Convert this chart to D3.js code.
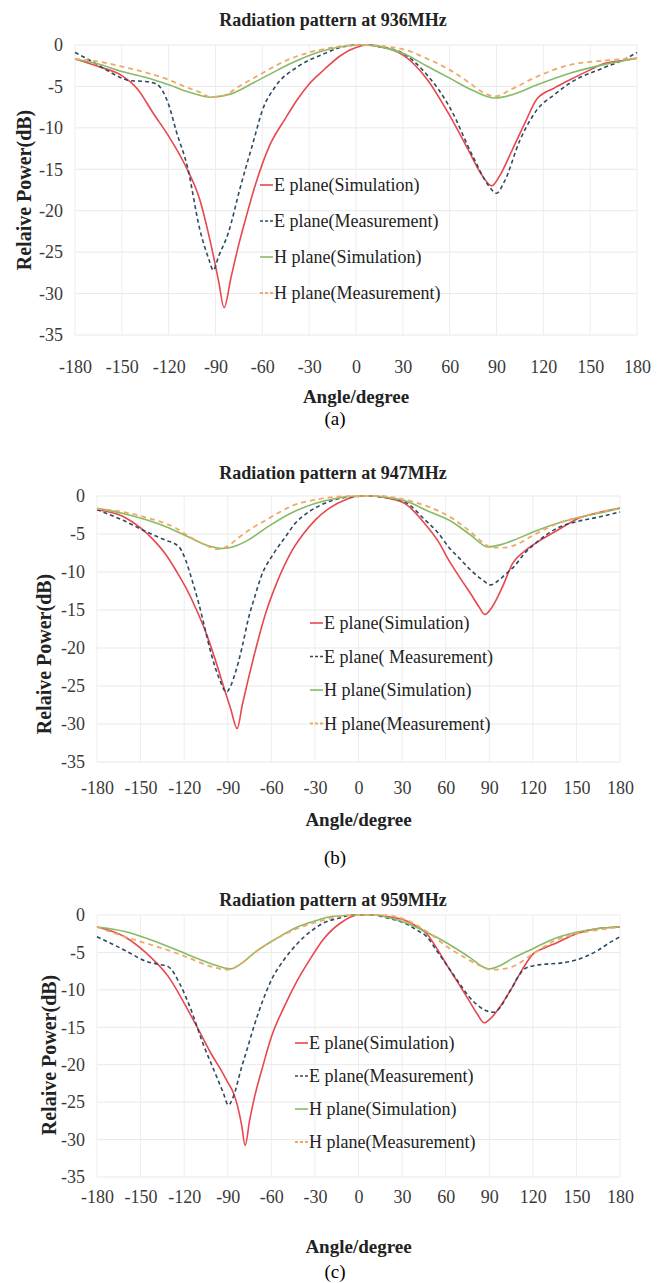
<!DOCTYPE html>
<html>
<head>
<meta charset="utf-8">
<script src="https://cdn.jsdelivr.net/npm/d3@7"></script>
<style>
body { margin: 0; background: #fff; }
svg { display: block; }
text { font-family: "Liberation Serif", "Times New Roman", serif; }
</style>
</head>
<body>
<svg id="chart" width="670" height="1283"></svg>
<script>
// ---- data ----
var xTicks = [-180, -150, -120, -90, -60, -30, 0, 30, 60, 90, 120, 150, 180];
var yTicks = [0, -5, -10, -15, -20, -25, -30, -35];
var titles = ["Radiation pattern at 936MHz", "Radiation pattern at 947MHz", "Radiation pattern at 959MHz"];
var captions = ["(a)", "(b)", "(c)"];
var legendA = ["E plane(Simulation)", "E plane(Measurement)", "H plane(Simulation)", "H plane(Measurement)"];
var legendB = ["E plane(Simulation)", "E plane( Measurement)", "H plane(Simulation)", "H plane(Measurement)"];

// panel (a) 936MHz  [angle, dB]
var a_eSim = [[-180,-1.7],[-165,-2.6],[-150,-3.7],[-140,-5.3],[-130,-8.2],[-120,-11],[-110,-14.3],[-100,-18.7],[-93,-24],[-88,-28.5],[-84.5,-31.7],[-80,-28],[-75,-24],[-70,-20.5],[-65,-17.2],[-55,-12],[-45,-8.8],[-38,-6.7],[-30,-4.7],[-20,-2.9],[-10,-1.3],[0,-0.3],[8,0],[15,-0.2],[30,-1.2],[45,-4],[60,-8.5],[72,-12.7],[80,-15.5],[87,-17],[92,-15.8],[100,-12.7],[108,-9.5],[116,-6.5],[127,-5.2],[137,-4.2],[150,-3],[158,-2.3],[170,-1.9],[180,-1.6]];
var a_eMeas = [[-180,-0.9],[-170,-1.9],[-160,-3],[-150,-4],[-145,-4.3],[-135,-4.4],[-128,-4.7],[-124,-5.5],[-120,-7.2],[-115,-10.5],[-108,-14.7],[-100,-22.3],[-94,-26],[-91.5,-27.2],[-88,-25.5],[-82,-22.8],[-74,-17.1],[-65.5,-11.5],[-60,-7.9],[-52,-5.1],[-38,-2.7],[-21,-1.1],[-10,-0.3],[0,0],[8,0],[15,-0.2],[30,-1],[45,-3.5],[60,-7.5],[75,-13.5],[85,-17],[90,-17.9],[95,-16.5],[105,-11.5],[116,-7.8],[127,-6],[137,-4.6],[158,-2.8],[170,-1.9],[180,-0.9]];
var a_hSim = [[-180,-1.7],[-165,-2.3],[-150,-3.2],[-135,-3.9],[-120,-4.8],[-105,-5.8],[-93,-6.3],[-80,-5.9],[-65,-4.5],[-50,-3],[-38,-1.9],[-21,-0.7],[-5,-0.1],[5,0],[15,-0.2],[30,-1],[45,-2.5],[60,-4],[75,-5.5],[89,-6.4],[100,-6],[116,-4.8],[137,-3.4],[158,-2.4],[180,-1.6]];
var a_hMeas = [[-180,-1.7],[-165,-2],[-150,-2.6],[-135,-3.3],[-120,-4.2],[-110,-5],[-100,-5.7],[-93,-6.3],[-85,-6.1],[-75,-5],[-60,-3.4],[-45,-1.9],[-30,-0.9],[-15,-0.3],[0,0],[10,0],[20,-0.2],[30,-0.5],[45,-1.6],[60,-3],[73,-4.6],[82,-5.8],[89,-6.2],[100,-5.3],[116,-3.8],[137,-2.4],[158,-1.9],[180,-1.6]];

// panel (b) 947MHz
var b_eSim = [[-180,-1.8],[-162,-2.7],[-150,-4.2],[-140,-6],[-133,-7.6],[-125,-10],[-119,-12],[-111,-15.2],[-104,-18.5],[-97,-22.5],[-93,-25],[-88,-28],[-83.5,-30.6],[-80,-27.5],[-76,-24.2],[-70,-19.6],[-64,-15.5],[-56,-11.3],[-47,-7.6],[-38,-5],[-30,-3.2],[-20,-1.6],[-9,-0.5],[0,0],[10,0],[20,-0.3],[32,-1],[45,-3.5],[55,-6],[62,-8.4],[70,-10.8],[77,-12.8],[83,-14.6],[87,-15.6],[92,-14.6],[99,-12],[106,-8.9],[114,-7.3],[122,-6.2],[137,-4.5],[152,-2.9],[167,-2.1],[180,-1.6]];
var b_eMeas = [[-180,-1.8],[-162,-3.2],[-145,-4.8],[-133,-5.8],[-124,-6.6],[-119,-8.4],[-115,-10.8],[-110,-14.1],[-106,-17.2],[-101.5,-20.7],[-95.5,-24.2],[-91,-25.8],[-88,-25],[-85,-23.4],[-80,-19.8],[-76,-16.3],[-71,-13],[-67,-10.6],[-58.5,-7.6],[-50,-5.3],[-43.6,-3.6],[-35,-2.2],[-26,-1.2],[-15,-0.4],[-5,-0.1],[5,0],[15,-0.1],[25,-0.4],[33,-0.9],[45,-3],[55,-4.9],[62,-6.7],[70,-8.3],[77,-9.7],[85,-11],[91,-11.7],[97,-11],[103,-10],[107,-9.3],[114,-7.6],[122,-6.2],[137,-4.2],[152,-3.3],[167,-2.7],[180,-2.1]];
var b_hSim = [[-180,-1.6],[-162,-2.3],[-145,-3.2],[-133,-4],[-118,-5.3],[-104,-6.5],[-93.5,-6.9],[-85,-6.6],[-76,-5.8],[-62,-4],[-47,-2.3],[-30,-1],[-15,-0.3],[0,0],[10,0],[20,-0.2],[33,-0.7],[48,-2],[62.5,-3.2],[77,-5.1],[89,-6.7],[98,-6.4],[107,-5.8],[122,-4.6],[137,-3.6],[152,-2.8],[167,-2.2],[180,-1.6]];
var b_hMeas = [[-180,-1.7],[-162,-2.1],[-145,-2.9],[-133,-3.6],[-125,-4.3],[-116,-5.4],[-106,-6.4],[-97,-7],[-90,-6.6],[-82,-5.4],[-73,-4.2],[-64,-3.2],[-55,-2.2],[-47,-1.4],[-30,-0.5],[-15,-0.1],[0,0],[15,0],[30,-0.4],[40,-0.9],[48,-1.4],[62.5,-2.7],[77,-4.7],[86,-6.2],[92,-6.8],[100,-6.8],[107,-6.5],[120,-5.2],[137,-3.6],[152,-2.8],[167,-2.1],[180,-1.6]];

// panel (c) 959MHz
var c_eSim = [[-180,-1.6],[-161,-2.9],[-146,-5.1],[-131,-8.2],[-116,-13.2],[-108,-16.1],[-101.5,-18.5],[-95,-20.6],[-89.6,-22.5],[-86,-23.8],[-83.7,-25.2],[-80.5,-28],[-78,-30.8],[-75,-27.5],[-72,-24.7],[-66,-20.3],[-60,-16.3],[-51,-12.2],[-42,-8.7],[-33,-5.8],[-24.4,-3.3],[-12.6,-1.1],[0,0],[10,0],[20,-0.2],[32,-0.7],[40,-1.5],[47,-2.5],[54,-4.5],[61.5,-6.9],[69,-9.2],[76,-11.4],[82,-13.3],[86.5,-14.4],[91,-13.8],[99,-11.8],[106,-9.6],[113,-7.2],[120.7,-5.1],[128,-4.4],[135.5,-3.8],[150,-2.5],[165,-1.8],[180,-1.6]];
var c_eMeas = [[-180,-2.9],[-161,-4.7],[-146,-6.2],[-137,-6.6],[-131,-6.9],[-123,-9.2],[-116,-12.3],[-107,-17.2],[-98.5,-21.2],[-93,-23.8],[-89.6,-25.4],[-86,-24.2],[-81,-20.7],[-76,-17.5],[-72,-14.9],[-66,-11.5],[-60,-8.7],[-51,-5.9],[-42,-3.8],[-33,-2.2],[-24.4,-1.1],[-13,-0.4],[-5,0],[10,0],[20,-0.4],[32,-1.1],[40,-2],[47,-2.9],[54,-4.8],[61.5,-6.9],[69,-9],[76,-10.9],[83,-12.2],[88,-12.8],[93,-13],[98,-12.2],[102,-10.9],[106,-9.6],[110,-8.2],[115,-7.1],[120,-6.8],[126.7,-6.6],[140,-6.4],[150,-6],[158,-5.4],[165,-4.7],[172,-3.8],[180,-2.9]];
var c_hSim = [[-180,-1.6],[-161,-2.2],[-146,-3.1],[-131,-4.2],[-116,-5.4],[-101.5,-6.5],[-88,-7.2],[-80,-6.4],[-72,-5.1],[-57,-3.2],[-42,-1.6],[-30,-0.8],[-18.5,-0.2],[0,0],[10,0],[20,-0.3],[32,-1],[47,-2.3],[61.5,-3.8],[76,-5.6],[89.6,-7.2],[98,-6.7],[106,-5.8],[120,-4.5],[135.5,-3.1],[150,-2.3],[165,-1.8],[180,-1.6]];
var c_hMeas = [[-180,-1.6],[-161,-2.9],[-146,-3.8],[-131,-4.7],[-116,-5.8],[-101.5,-6.9],[-90,-7.3],[-81,-6.5],[-72,-5.1],[-63,-3.9],[-54,-2.9],[-42,-1.8],[-24,-0.7],[-10,-0.1],[0,0],[15,0],[25,-0.2],[32,-0.6],[47,-2.2],[61.5,-4.3],[76,-6],[84,-6.8],[91,-7.3],[99,-7.2],[106,-6.9],[120,-5.2],[135.5,-3.4],[150,-2.5],[165,-2],[180,-1.6]];

// ---- styles ----
var serif = "Liberation Serif, Times New Roman, serif";
var lineStyles = [
  {color: "#e8474e", dash: null, width: 1.6},
  {color: "#2f4a60", dash: "4,3", width: 1.6},
  {color: "#86bb66", dash: null, width: 1.6},
  {color: "#f0a866", dash: "5,4", width: 1.8}
];

// ---- layout per panel ----
var panels = [
  {series: [a_eSim, a_eMeas, a_hSim, a_hMeas], legend: legendA,
   x0: 75, x1: 637, y0: 45, y1: 335, titleY: 26, tickY: 374, axisY: 403, capY: 425,
   ylabX: 24, ylabY: 190, legX: 260, legY: 185, legGap: 36},
  {series: [b_eSim, b_eMeas, b_hSim, b_hMeas], legend: legendB,
   x0: 97, x1: 620, y0: 496, y1: 762, titleY: 479, tickY: 795, axisY: 826, capY: 864,
   ylabX: 44, ylabY: 654, legX: 310, legY: 623, legGap: 33.5},
  {series: [c_eSim, c_eMeas, c_hSim, c_hMeas], legend: legendA,
   x0: 97, x1: 620, y0: 915, y1: 1177, titleY: 906, tickY: 1204, axisY: 1253, capY: 1278,
   ylabX: 49, ylabY: 1055, legX: 295, legY: 1043, legGap: 33}
];

var svg = d3.select("#chart");

panels.forEach(function(p, i) {
  var x = d3.scaleLinear().domain([-180, 180]).range([p.x0, p.x1]);
  var y = d3.scaleLinear().domain([0, -35]).range([p.y0, p.y1]);
  var g = svg.append("g");

  // grid
  g.selectAll(".hg").data(yTicks).enter().append("line")
    .attr("x1", p.x0).attr("x2", p.x1)
    .attr("y1", function(d) { return y(d); }).attr("y2", function(d) { return y(d); })
    .attr("stroke", "#e9e9e9").attr("stroke-width", 1);
  g.selectAll(".vg").data(xTicks).enter().append("line")
    .attr("y1", p.y0).attr("y2", p.y1)
    .attr("x1", function(d) { return x(d); }).attr("x2", function(d) { return x(d); })
    .attr("stroke", "#ededed").attr("stroke-width", 1);

  // axes (labels only)
  var yAxis = d3.axisLeft(y).tickValues(yTicks).tickSize(0).tickPadding(12)
    .tickFormat(function(d) { return d; });
  var ya = g.append("g").attr("transform", "translate(" + p.x0 + ",0)").call(yAxis);
  ya.attr("font-family", serif).attr("font-size", 18);
  ya.select(".domain").remove();
  ya.selectAll("text").attr("fill", "#3a3a3a");

  var xAxis = d3.axisBottom(x).tickValues(xTicks).tickSize(0).tickPadding(0)
    .tickFormat(function(d) { return d; });
  var xa = g.append("g").attr("transform", "translate(0," + (p.tickY - 14) + ")").call(xAxis);
  xa.attr("font-family", serif).attr("font-size", 18);
  xa.select(".domain").remove();
  xa.selectAll("text").attr("fill", "#3a3a3a");

  // curves
  var line = d3.line()
    .x(function(d) { return x(d[0]); })
    .y(function(d) { return y(d[1]); })
    .curve(d3.curveMonotoneX);
  p.series.forEach(function(s, k) {
    var st = lineStyles[k];
    g.append("path").datum(s)
      .attr("d", line)
      .attr("fill", "none")
      .attr("stroke", st.color)
      .attr("stroke-width", st.width)
      .attr("stroke-dasharray", st.dash);
  });

  // legend
  p.legend.forEach(function(name, k) {
    var st = lineStyles[k];
    var ly = p.legY + k * p.legGap;
    g.append("line")
      .attr("x1", p.legX).attr("x2", p.legX + 13)
      .attr("y1", ly).attr("y2", ly)
      .attr("stroke", st.color).attr("stroke-width", st.width)
      .attr("stroke-dasharray", st.dash ? "3,2" : null);
    g.append("text")
      .attr("x", p.legX + 14).attr("y", ly + 6)
      .attr("font-size", 18).attr("fill", "#222")
      .text(name);
  });

  // titles
  g.append("text")
    .attr("x", 333).attr("y", p.titleY)
    .attr("text-anchor", "middle").attr("font-size", 18).attr("font-weight", "bold")
    .attr("fill", "#222")
    .text(titles[i]);
  g.append("text")
    .attr("x", (p.x0 + p.x1) / 2).attr("y", p.axisY)
    .attr("text-anchor", "middle").attr("font-size", 19).attr("font-weight", "bold")
    .attr("fill", "#222")
    .text("Angle/degree");
  g.append("text")
    .attr("transform", "translate(" + (p.ylabX + 7) + "," + p.ylabY + ") rotate(-90)")
    .attr("text-anchor", "middle").attr("font-size", 20).attr("font-weight", "bold")
    .attr("fill", "#222")
    .text("Relaive Power(dB)");
  svg.append("text")
    .attr("x", 335).attr("y", p.capY)
    .attr("text-anchor", "middle").attr("font-size", 19)
    .attr("fill", "#000")
    .text(captions[i]);
});
</script>
</body>
</html>
